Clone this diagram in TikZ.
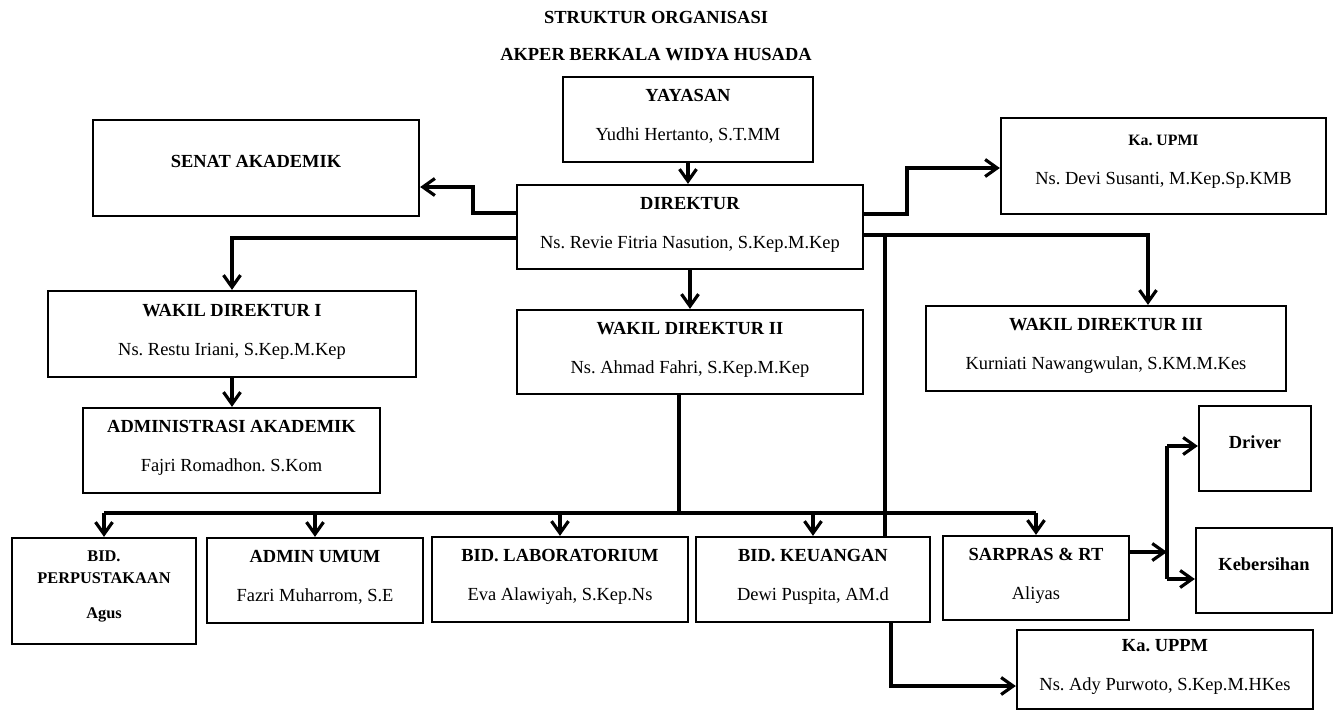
\documentclass[tikz,border=0pt]{standalone}
\usepackage{fontspec}
\setmainfont{Liberation Serif}
\usetikzlibrary{arrows.meta,positioning}
\frenchspacing

\begin{document}
\begin{tikzpicture}[
  x=0.02cm, y=-0.02cm,
  font=\fontsize{10.5}{12.6}\selectfont,
  box/.style 2 args={draw,line width=1.3pt,minimum width=#1*0.02cm,minimum height=#2*0.02cm,align=center,inner sep=0pt,text depth=0.17cm},
  lift/.style={text depth=0.25cm},
  link/.style={line width=1.8pt},
  arr/.style={link,-{Straight Barb[length=2.4mm,width=3.4mm]}},
]
  \useasboundingbox (0,0) rectangle (1340,711);

  % Heading
  \node[font=\fontsize{10.5}{12}\selectfont\bfseries] (ttl) at (656,17) {STRUKTUR ORGANISASI};
  \node[font=\fontsize{10.5}{12}\selectfont\bfseries] (sub) at (656,55) {AKPER BERKALA WIDYA HUSADA};

  % Pimpinan
  \node[box={250}{85}] (yay) at (688,119.5) {\textbf{YAYASAN}\\[9.5pt]Yudhi Hertanto, S.T.MM};
  \node[box={346}{84}] (dir) at (690,227) {\textbf{DIREKTUR}\\[9.5pt]Ns. Revie Fitria Nasution, S.Kep.M.Kep};
  \node[box={326}{96},lift] (senat) at (256,168) {\textbf{SENAT AKADEMIK}};
  \node[box={325}{96},lift] (upmi) at (1163.5,166) {{\fontsize{9}{11}\selectfont\textbf{Ka. UPMI}}\\[9.5pt]Ns. Devi Susanti, M.Kep.Sp.KMB};

  % Wakil direktur
  \node[box={368}{86}] (w1) at (232,334) {\textbf{WAKIL DIREKTUR I}\\[9.5pt]Ns. Restu Iriani, S.Kep.M.Kep};
  \node[box={297}{85}] (adm) at (231.5,450.5) {\textbf{ADMINISTRASI AKADEMIK}\\[9.5pt]Fajri Romadhon. S.Kom};
  \node[box={346}{84}] (w2) at (690,352) {\textbf{WAKIL DIREKTUR II}\\[9.5pt]Ns. Ahmad Fahri, S.Kep.M.Kep};
  \node[box={360}{85}] (w3) at (1106,348.5) {\textbf{WAKIL DIREKTUR III}\\[9.5pt]Kurniati Nawangwulan, S.KM.M.Kes};

  % Bidang
  \node[box={184}{106},lift,font=\fontsize{9.3}{12}\selectfont\bfseries] (perpus) at (104,591) {BID.\\PERPUSTAKAAN\\[8pt]Agus};
  \node[box={216}{85}] (umum) at (315,580.5) {\textbf{ADMIN UMUM}\\[9.5pt]Fazri Muharrom, S.E};
  \node[box={256}{85}] (lab) at (560,579.5) {\textbf{BID. LABORATORIUM}\\[9.5pt]Eva Alawiyah, S.Kep.Ns};
  \node[box={234}{85}] (keu) at (813,579.5) {\textbf{BID. KEUANGAN}\\[9.5pt]Dewi Puspita, AM.d};
  \node[box={186}{84}] (sarpras) at (1036,578) {\textbf{SARPRAS \& RT}\\[9.5pt]Aliyas};
  \node[box={112}{85},lift] (driver) at (1255,448.5) {\textbf{Driver}};
  \node[box={136}{85},lift] (keb) at (1264,570.5) {\textbf{Kebersihan}};
  \node[box={296}{79}] (uppm) at (1165,669.5) {\textbf{Ka. UPPM}\\[9.5pt]Ns. Ady Purwoto, S.Kep.M.HKes};

  % Garis dari direktur
  \draw[arr] (yay.south) -- (yay.south |- dir.north);
  \draw[arr] (dir.south) -- (dir.south |- w2.north);
  \draw[arr] (dir.west |- 0,213) -- (473,213) -- (473,187) -- (senat.east |- 0,187);
  \draw[arr] (dir.west |- 0,238) -| (w1.north);
  \draw[arr] (w1.south) -- (w1.south |- adm.north);
  \draw[arr] (dir.east |- 0,214) -- (907,214) -- (907,168) -- (upmi.west |- 0,168);
  \draw[arr] (dir.east |- 0,235) -| (1148,0 |- w3.north);
  \draw[link] (885,235) -- (885,0 |- keu.north);

  % Garis ke bidang
  \draw[link] (w2.south -| 679,0) -- (679,513);
  \draw[link] (perpus.north |- 0,513) -- (sarpras.north |- 0,513);
  \foreach \b in {perpus,umum,lab,keu,sarpras}
    \draw[arr] (\b.north |- 0,513) -- (\b.north);

  % Sarpras dan keuangan
  \draw[arr] (sarpras.east |- 0,552) -- (1167,552);
  \draw[link] (1167,446) -- (1167,579);
  \draw[arr] (1167,446) -- (driver.west |- 0,446);
  \draw[arr] (1167,579) -- (keb.west |- 0,579);
  \draw[arr] (keu.south -| 891,0) -- (891,686) -- (uppm.west |- 0,686);
\end{tikzpicture}
\end{document}
